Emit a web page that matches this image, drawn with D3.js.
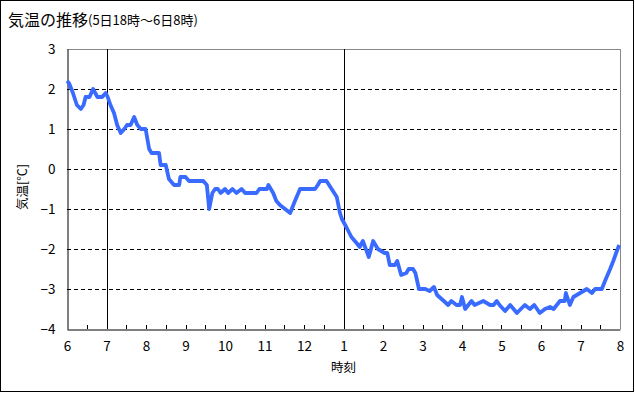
<!DOCTYPE html>
<html><head><meta charset="utf-8">
<script src="https://cdn.jsdelivr.net/npm/d3@7"></script>
<style>
html,body{margin:0;padding:0;background:#fff;}
svg{display:block;}
text{font-family:"Noto Sans CJK JP","Noto Sans",sans-serif;}
</style></head>
<body><svg id="c" width="635" height="393"></svg>
<script>
// time in hours after 18:00 (5日18時), temperature in °C
const hours = [0.00,0.05,0.15,0.25,0.35,0.42,0.47,0.57,0.66,0.77,0.89,0.98,1.03,1.10,1.19,1.27,1.36,1.45,1.52,1.61,1.70,1.78,1.87,1.99,2.08,2.14,2.33,2.37,2.50,2.58,2.71,2.84,2.87,3.00,3.09,3.45,3.54,3.60,3.68,3.75,3.82,3.89,4.00,4.08,4.19,4.29,4.42,4.51,4.80,4.87,5.06,5.10,5.22,5.30,5.39,5.52,5.65,5.77,5.90,6.28,6.35,6.41,6.57,6.70,6.83,6.91,6.96,7.07,7.20,7.33,7.41,7.49,7.64,7.75,7.87,8.04,8.11,8.17,8.30,8.36,8.46,8.59,8.65,8.76,8.82,8.91,9.07,9.18,9.29,9.37,9.54,9.65,9.73,9.86,9.95,10.00,10.08,10.24,10.32,10.54,10.71,10.80,10.88,10.95,11.09,11.22,11.39,11.59,11.72,11.83,11.97,12.10,12.23,12.32,12.48,12.60,12.63,12.73,12.82,12.99,13.16,13.29,13.37,13.54,13.62,13.75,13.83,13.92,13.98];
const temps = [2.2,2.15,1.9,1.6,1.5,1.6,1.8,1.8,2.0,1.8,1.8,1.9,1.8,1.6,1.4,1.1,0.9,1.0,1.1,1.1,1.3,1.1,1.0,1.0,0.5,0.4,0.4,0.1,0.1,-0.25,-0.4,-0.4,-0.2,-0.2,-0.3,-0.3,-0.4,-1.0,-0.6,-0.5,-0.5,-0.6,-0.5,-0.6,-0.5,-0.6,-0.5,-0.6,-0.6,-0.5,-0.5,-0.4,-0.6,-0.8,-0.9,-1.0,-1.1,-0.8,-0.5,-0.5,-0.4,-0.3,-0.3,-0.5,-0.7,-1.1,-1.25,-1.45,-1.7,-1.85,-1.95,-1.8,-2.2,-1.8,-2.0,-2.1,-2.1,-2.4,-2.4,-2.3,-2.65,-2.6,-2.5,-2.5,-2.6,-3.0,-3.0,-3.05,-2.95,-3.15,-3.3,-3.4,-3.3,-3.4,-3.4,-3.2,-3.5,-3.3,-3.4,-3.3,-3.4,-3.4,-3.3,-3.4,-3.55,-3.4,-3.6,-3.4,-3.5,-3.4,-3.6,-3.5,-3.45,-3.5,-3.3,-3.3,-3.1,-3.4,-3.2,-3.1,-3.0,-3.1,-3.0,-3.0,-2.8,-2.5,-2.3,-2.05,-1.9];
const xTickLabels = ["6","7","8","9","10","11","12","1","2","3","4","5","6","7","8"];
const yTicks = [3,2,1,0,-1,-2,-3,-4];
const gridValues = [2,1,0,-1,-2,-3];
const dayLines = [1,7];
const titleMain = "気温の推移";
const titleSub = "(5日18時～6日8時)";
const xTitle = "時刻";
const yTitle = "気温[℃]";

const svg = d3.select("#c");
const L=67, R=620, T=49, B=329;
const x = d3.scaleLinear().domain([0,14]).range([L,R]);
const y = d3.scaleLinear().domain([-4,3]).range([B,T]);

// outer frame
svg.append("rect").attr("x",0.5).attr("y",0.5).attr("width",633).attr("height",391)
  .attr("fill","none").attr("stroke","#000").attr("stroke-width",1);

// title
const tt = svg.append("text").attr("x",8).attr("y",26);
tt.append("tspan").attr("font-size",16).text(titleMain);
tt.append("tspan").attr("font-size",13).attr("dy",-1).text(titleSub);

// plot border (top/right gray)
svg.append("line").attr("x1",L).attr("x2",R).attr("y1",T+0.5).attr("y2",T+0.5).attr("stroke","#888");
svg.append("line").attr("x1",R+0.5).attr("x2",R+0.5).attr("y1",T).attr("y2",B).attr("stroke","#888");

// grid
svg.append("g").selectAll("line").data(gridValues).join("line")
  .attr("x1",L).attr("x2",R).attr("y1",d=>Math.round(y(d))+0.5).attr("y2",d=>Math.round(y(d))+0.5)
  .attr("stroke","#000").attr("stroke-dasharray","4,3");

// vertical day lines
svg.append("g").selectAll("line").data(dayLines).join("line")
  .attr("x1",d=>Math.round(x(d))+0.5).attr("x2",d=>Math.round(x(d))+0.5).attr("y1",T).attr("y2",B)
  .attr("stroke","#000");

// x axis
const xAxis = d3.axisBottom(x).tickValues(d3.range(0,14.01,1)).tickFormat((d,i)=>xTickLabels[i]).tickSize(0).tickPadding(12);
const gx = svg.append("g").attr("transform",`translate(0,${B+0.5})`).call(xAxis);
gx.select(".domain").attr("stroke","#000");
gx.selectAll("text").attr("font-size",13.5).attr("fill","#000").attr("font-family","Noto Sans CJK JP");
// minor ticks inward every half hour
svg.append("g").selectAll("line").data(d3.range(0.5,14,0.5)).join("line")
  .attr("x1",d=>Math.round(x(d))+0.5).attr("x2",d=>Math.round(x(d))+0.5).attr("y1",B).attr("y2",B-4)
  .attr("stroke","#000");

// y axis
const yAxis = d3.axisLeft(y).tickValues(yTicks).tickSize(0).tickPadding(12).tickFormat(d3.format("d"));
const gy = svg.append("g").attr("transform",`translate(${L+0.5},0)`).call(yAxis);
gy.select(".domain").attr("stroke","#000");
gy.selectAll("text").attr("font-size",13.5).attr("fill","#000").attr("font-family","Noto Sans CJK JP");

// axis titles
svg.append("text").attr("x",(L+R)/2).attr("y",372).attr("text-anchor","middle").attr("font-size",12.5).text(xTitle);
svg.append("text").attr("transform","translate(27,187) rotate(-90)").attr("text-anchor","middle").attr("font-size",12.5).text(yTitle);

// data line
const data = hours.map((h,i)=>({h, v: temps[i]}));
svg.append("path").datum(data)
  .attr("fill","none").attr("stroke","#3A6BFF").attr("stroke-width",3.8).attr("stroke-linejoin","round")
  .attr("d", d3.line().x(d=>x(d.h)).y(d=>y(d.v)));
</script></body></html>
